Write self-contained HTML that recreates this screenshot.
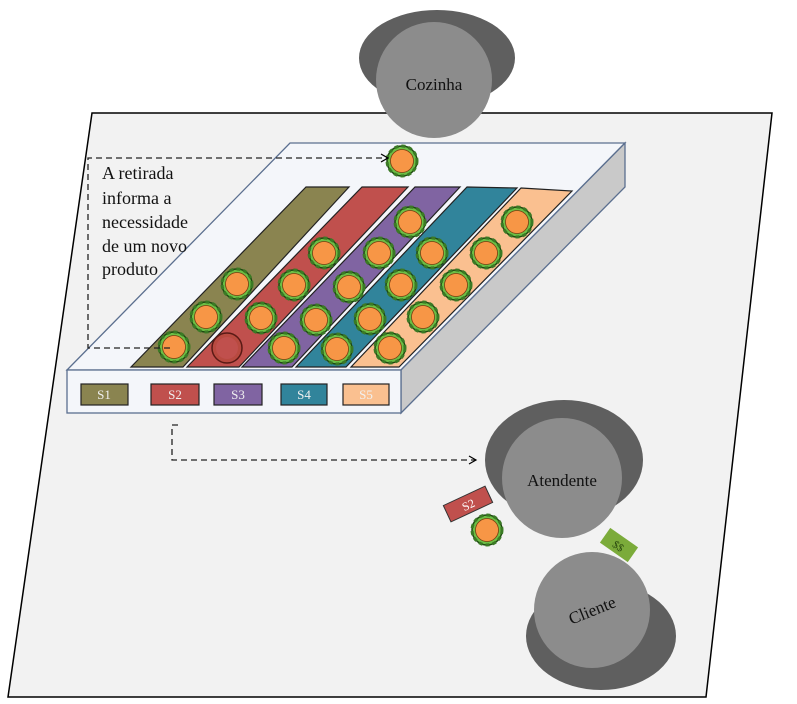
<!DOCTYPE html>
<html><head><meta charset="utf-8"><style>
html,body{margin:0;padding:0;background:#fff;}
svg{display:block;}
text{font-family:"Liberation Serif",serif;}
</style></head><body>
<svg width="797" height="704" viewBox="0 0 797 704" xmlns="http://www.w3.org/2000/svg">
<defs>
<g id="fl">
<circle r="15" fill="#6cbf45" stroke="#1f4a12" stroke-width="1.5"/>
<circle r="15" fill="none" stroke="#3b7a25" stroke-width="3" stroke-dasharray="4 3"/>
<circle r="11.5" fill="#f79646" stroke="#7a3b10" stroke-width="0.8"/>
</g>
<marker id="ar" markerWidth="10" markerHeight="10" refX="8" refY="5" orient="auto" markerUnits="userSpaceOnUse">
<path d="M1,1 L8,5 L1,9" fill="none" stroke="#000" stroke-width="1.2"/>
</marker>
</defs>
<!-- floor -->
<polygon points="92,113 772,113 706,697 8,697" fill="#f2f2f2" stroke="#000" stroke-width="1.5"/>
<!-- Cozinha -->
<ellipse cx="437" cy="58" rx="78" ry="48" fill="#5f5f5f"/>
<circle cx="434" cy="80" r="58" fill="#8c8c8c"/>
<text x="434" y="90" font-size="17" text-anchor="middle" fill="#111">Cozinha</text>
<!-- box -->
<polygon points="290,143 625,143 401,370 67,370" fill="#f4f6fa" stroke="#5b6f8f" stroke-width="1.3"/>
<polygon points="401,370 625,143 625,187 401,413" fill="#c9c9c9" stroke="#5b6f8f" stroke-width="1.3"/>
<rect x="67" y="370" width="334" height="43" fill="#f4f6fa" stroke="#5b6f8f" stroke-width="1.3"/>
<!-- stripes -->
<g stroke="#222" stroke-width="1.2">
<polygon points="306,187 349,187 183,367 131,367" fill="#8a8450"/>
<polygon points="362,187 408,187 239,367 187,367" fill="#c0504d"/>
<polygon points="415,187 460,187 292,367 242,367" fill="#8064a2"/>
<polygon points="467,187 517,188 346,367 296,367" fill="#31849b"/>
<polygon points="521,188 572,191 399,367 351,367" fill="#fac090"/>
</g>
<!-- labels -->
<g stroke="#222" stroke-width="1.2">
<rect x="81" y="384" width="47" height="21" fill="#8a8450"/>
<rect x="151" y="384" width="48" height="21" fill="#c0504d"/>
<rect x="214" y="384" width="48" height="21" fill="#8064a2"/>
<rect x="281" y="384" width="46" height="21" fill="#31849b"/>
<rect x="343" y="384" width="46" height="21" fill="#fac090"/>
</g>
<g font-size="13" text-anchor="middle" fill="#f0f0f0">
<text x="104" y="399">S1</text><text x="175" y="399">S2</text><text x="238" y="399">S3</text><text x="304" y="399">S4</text><text x="366" y="399">S5</text>
</g>
<!-- flowers -->
<use href="#fl" x="174" y="347"/>
<use href="#fl" x="206" y="317"/>
<use href="#fl" x="237" y="284"/>
<g transform="translate(227,348)"><circle r="15" fill="#b84a40" stroke="#5a1a15" stroke-width="1.5"/><circle r="11" fill="#c0504d"/></g>
<use href="#fl" x="261" y="318"/>
<use href="#fl" x="294" y="285"/>
<use href="#fl" x="324" y="253"/>
<use href="#fl" x="284" y="348"/>
<use href="#fl" x="316" y="320"/>
<use href="#fl" x="349" y="287"/>
<use href="#fl" x="379" y="253"/>
<use href="#fl" x="410" y="222"/>
<use href="#fl" x="337" y="349"/>
<use href="#fl" x="370" y="319"/>
<use href="#fl" x="401" y="285"/>
<use href="#fl" x="432" y="253"/>
<use href="#fl" x="390" y="348"/>
<use href="#fl" x="423" y="317"/>
<use href="#fl" x="456" y="285"/>
<use href="#fl" x="486" y="253"/>
<use href="#fl" x="517" y="222"/>
<use href="#fl" x="402" y="161"/>
<!-- dashed arrows -->
<path d="M170,348 L88,348 L88,158 L388,158" fill="none" stroke="#222" stroke-width="1.3" stroke-dasharray="6 4" marker-end="url(#ar)"/>
<path d="M178,425 L172,425 L172,460 L476,460" fill="none" stroke="#222" stroke-width="1.3" stroke-dasharray="6 4" marker-end="url(#ar)"/>
<!-- text -->
<g font-size="18" fill="#111">
<text x="102" y="179">A retirada</text>
<text x="102" y="204">informa  a</text>
<text x="102" y="228">necessidade</text>
<text x="102" y="252">de um novo</text>
<text x="102" y="275">produto</text>
</g>
<!-- Atendente -->
<ellipse cx="564" cy="460" rx="79" ry="60" fill="#5f5f5f"/>
<circle cx="562" cy="478" r="60" fill="#8c8c8c"/>
<text x="562" y="486" font-size="17" text-anchor="middle" fill="#111">Atendente</text>
<!-- S2 tag and flower -->
<g transform="translate(468,504) rotate(-25)"><rect x="-23" y="-9" width="46" height="18" fill="#c0504d" stroke="#333" stroke-width="1"/><text x="0" y="5" font-size="12" text-anchor="middle" fill="#fff">S2</text></g>
<use href="#fl" x="487" y="530"/>
<!-- money -->
<g transform="translate(619,545) rotate(35)"><rect x="-17" y="-9" width="34" height="18" fill="#7bab3a"/><text x="0" y="5" font-size="11" text-anchor="middle" fill="#2b4a10">$$</text></g>
<!-- Cliente -->
<ellipse cx="601" cy="636" rx="75" ry="54" fill="#5f5f5f"/>
<circle cx="592" cy="610" r="58" fill="#8c8c8c"/>
<text x="592" y="616" font-size="17" text-anchor="middle" fill="#111" transform="rotate(-22 592 610)">Cliente</text>
</svg>
</body></html>
